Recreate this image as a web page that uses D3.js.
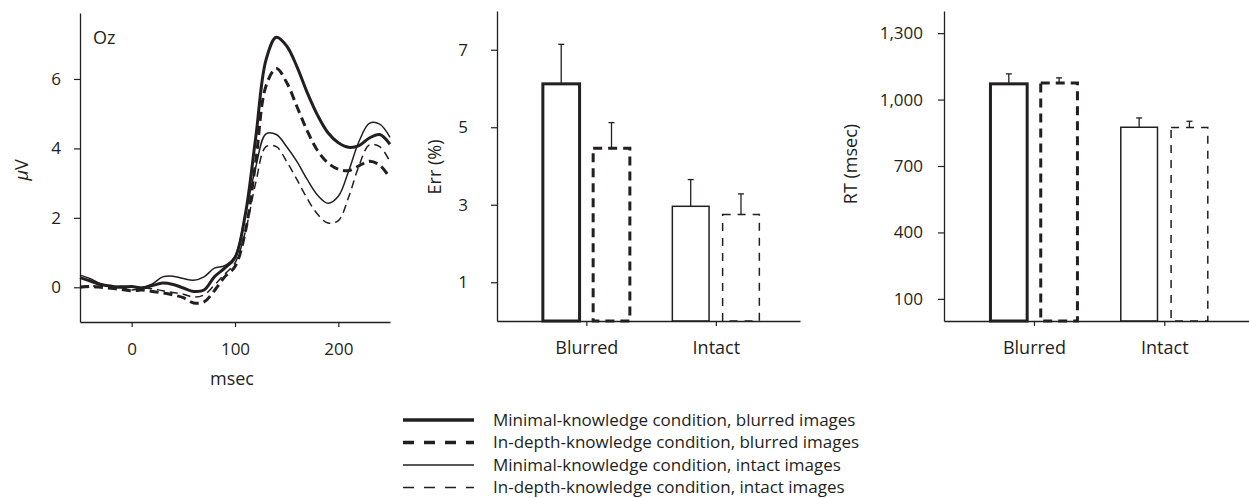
<!DOCTYPE html>
<html>
<head>
<meta charset="utf-8">
<script src="https://cdn.jsdelivr.net/npm/d3@7"></script>
<style>
  body { margin: 0; background: #fff; }
  svg { display: block; }
  text { font-family: "Open Sans", sans-serif; fill: #231f20; }
</style>
</head>
<body>
<svg id="chart" width="1249" height="498"></svg>
<script>
// ERP at Oz: time points (msec) and condition means (µV)
const times = [-50, -40, -30, -20, -10, 0, 10, 20, 30, 40, 50, 60, 70, 80, 90, 100,
  110, 120, 130, 140, 150, 160, 170, 180, 190, 200, 210, 220, 230, 240, 250];
const minBlurred = [0.28, 0.18, 0.08, 0.03, 0.0, 0.02, -0.02, 0.05, 0.12, 0.08, -0.02, -0.12, -0.08, 0.3, 0.55, 0.85,
  2.1, 4.3, 6.55, 7.2, 6.95, 6.35, 5.6, 4.95, 4.45, 4.16, 4.03, 4.08, 4.3, 4.4, 4.12];
const depBlurred = [0.0, 0.02, 0.0, -0.03, -0.06, -0.1, -0.08, -0.12, -0.16, -0.22, -0.3, -0.45, -0.42, -0.1, 0.3, 0.6,
  1.6, 3.6, 5.8, 6.3, 5.9, 5.2, 4.5, 3.93, 3.58, 3.4, 3.36, 3.5, 3.63, 3.52, 3.15];
const minIntact = [0.35, 0.25, 0.1, 0.02, 0.04, 0.02, 0.0, 0.1, 0.3, 0.32, 0.25, 0.2, 0.3, 0.55, 0.62, 0.9,
  2.1, 3.45, 4.42, 4.4, 4.05, 3.62, 3.1, 2.65, 2.42, 2.62, 3.35, 4.2, 4.72, 4.7, 4.32];
const depIntact = [0.02, 0.04, 0.02, 0.05, 0.0, -0.08, -0.02, -0.04, -0.1, -0.15, -0.2, -0.28, -0.22, 0.06, 0.38, 0.7,
  1.6, 3.0, 4.05, 4.05, 3.62, 3.1, 2.55, 2.1, 1.85, 1.92, 2.6, 3.5, 4.1, 4.05, 3.62];
const erpXTicks = [0, 100, 200];
const erpYTicks = [0, 2, 4, 6];

// behaviour: error rate and reaction time per image type
const categories = ["Blurred", "Intact"];
const errMinimal = [6.12, 2.96];
const errMinimalSE = [1.02, 0.69];
const errInDepth = [4.46, 2.75];
const errInDepthSE = [0.66, 0.53];
const errTicks = [1, 3, 5, 7];
const rtMinimal = [1071, 875];
const rtMinimalSE = [45, 42];
const rtInDepth = [1075, 874];
const rtInDepthSE = [23, 28];
const rtTicks = [100, 400, 700, 1000, 1300];

const legendLabels = [
  "Minimal-knowledge condition, blurred images",
  "In-depth-knowledge condition, blurred images",
  "Minimal-knowledge condition, intact images",
  "In-depth-knowledge condition, intact images"
];

const ink = "#231f20";
// one style per condition, same order as legendLabels
const styles = [
  { width: 3, dash: null, barDash: null, legDash: null },
  { width: 3, dash: "9,5", barDash: "9,6", legDash: "11,10" },
  { width: 1.5, dash: null, barDash: null, legDash: null },
  { width: 1.5, dash: "8,5", barDash: "8,7", legDash: "11,10" }
];

const svg = d3.select("#chart");

function styleAxis(g, size) {
  g.style("color", ink).attr("font-size", size);
  g.select(".domain").attr("stroke-width", 1.3);
  g.selectAll(".tick line").attr("stroke-width", 1.2);
}

/* ─── ERP panel ─── */
const x = d3.scaleLinear().domain([-50, 250]).range([80, 390]);
const y = d3.scaleLinear().domain([-1, 7.9]).range([322, 13]);

const erp = svg.append("g");

erp.append("g")
  .attr("transform", `translate(0,${y.range()[0]})`)
  .call(d3.axisBottom(x).tickValues(erpXTicks).tickSize(5).tickSizeOuter(0).tickPadding(16))
  .call(g => styleAxis(g, 17));

erp.append("g")
  .attr("transform", `translate(${x.range()[0]},0)`)
  .call(d3.axisLeft(y).tickValues(erpYTicks).tickSize(6).tickSizeOuter(0).tickPadding(13))
  .call(g => styleAxis(g, 17));

const line = d3.line()
  .x((d, i) => x(times[i]))
  .y(d => y(d))
  .curve(d3.curveCatmullRom.alpha(0.5));

[minBlurred, depBlurred, minIntact, depIntact].forEach((series, i) => {
  erp.append("path")
    .attr("d", line(series))
    .attr("fill", "none")
    .attr("stroke", ink)
    .attr("stroke-width", styles[i].width)
    .attr("stroke-dasharray", styles[i].dash)
    .attr("stroke-linejoin", "round");
});

erp.append("text").attr("x", 93).attr("y", 44).attr("font-size", 18).text("Oz");
erp.append("text").attr("x", 232).attr("y", 385).attr("font-size", 18)
  .attr("text-anchor", "middle").text("msec");
erp.append("text")
  .attr("transform", "translate(28,170) rotate(-90)")
  .attr("text-anchor", "middle").attr("font-size", 18)
  .call(t => {
    t.append("tspan").attr("font-style", "italic").text("\u03bc");
    t.append("tspan").text("V");
  });

/* ─── bar panels ─── */
function barPanel(opts) {
  const yS = d3.scaleLinear().domain(opts.domain).range([321, 11]);
  const xS = d3.scalePoint().domain(categories).range([opts.left, opts.right])
    .padding(0.67).align(0.515);
  const sub = d3.scaleBand().domain([0, 1]).range([-43.5, 43.5]).paddingInner(0.27);

  const rows = categories.flatMap((c, ci) => [0, 1].map(k => ({
    cat: c,
    k,
    mean: opts.means[k][ci],
    se: opts.ses[k][ci],
    style: styles[ci * 2 + k]
  })));

  const g = svg.append("g");

  const bars = g.selectAll(".bar").data(rows).enter().append("g");

  bars.append("rect")
    .attr("x", d => xS(d.cat) + sub(d.k))
    .attr("y", d => yS(d.mean))
    .attr("width", sub.bandwidth())
    .attr("height", d => yS(0) - yS(d.mean))
    .attr("fill", "none")
    .attr("stroke", ink)
    .attr("stroke-width", d => d.style.width)
    .attr("stroke-dasharray", d => d.style.barDash);

  const cx = d => xS(d.cat) + sub(d.k) + sub.bandwidth() / 2;

  bars.append("line")
    .attr("x1", cx).attr("x2", cx)
    .attr("y1", d => yS(d.mean)).attr("y2", d => yS(d.mean + d.se))
    .attr("stroke", ink).attr("stroke-width", 1.3);

  bars.append("line")
    .attr("x1", d => cx(d) - 3).attr("x2", d => cx(d) + 3)
    .attr("y1", d => yS(d.mean + d.se)).attr("y2", d => yS(d.mean + d.se))
    .attr("stroke", ink).attr("stroke-width", 1.3);

  g.append("g")
    .attr("transform", `translate(0,${yS(0)})`)
    .call(d3.axisBottom(xS).tickSize(5).tickSizeOuter(0).tickPadding(15))
    .call(a => styleAxis(a, 18));

  g.append("g")
    .attr("transform", `translate(${opts.left},0)`)
    .call(d3.axisLeft(yS).tickValues(opts.ticks).tickFormat(opts.format)
      .tickSize(6).tickSizeOuter(0).tickPadding(opts.tickPad))
    .call(a => styleAxis(a, 17));

  g.append("text")
    .attr("transform", `translate(${opts.titleX},${opts.titleY}) rotate(-90)`)
    .attr("text-anchor", "middle").attr("font-size", 18)
    .text(opts.title);
}

barPanel({
  left: 497, right: 800,
  domain: [0, 8],
  ticks: errTicks,
  format: d3.format("d"),
  tickPad: 23,
  means: [errMinimal, errInDepth],
  ses: [errMinimalSE, errInDepthSE],
  title: "Err (%)", titleX: 441, titleY: 167
});

barPanel({
  left: 944, right: 1249,
  domain: [0, 1400],
  ticks: rtTicks,
  format: d3.format(","),
  tickPad: 15,
  means: [rtMinimal, rtInDepth],
  ses: [rtMinimalSE, rtInDepthSE],
  title: "RT (msec)", titleX: 857, titleY: 164
});

/* ─── legend ─── */
const legend = svg.append("g").attr("transform", "translate(403,420)");

legendLabels.forEach((label, i) => {
  const row = legend.append("g").attr("transform", `translate(0,${i * 22.5})`);
  row.append("line")
    .attr("x1", 0).attr("x2", 71)
    .attr("stroke", ink)
    .attr("stroke-width", styles[i].width === 3 ? 3.3 : 1.5)
    .attr("stroke-dasharray", styles[i].legDash);
  row.append("text")
    .attr("x", 90).attr("dy", "0.35em")
    .attr("font-size", 17)
    .text(label);
});
</script>
</body>
</html>
